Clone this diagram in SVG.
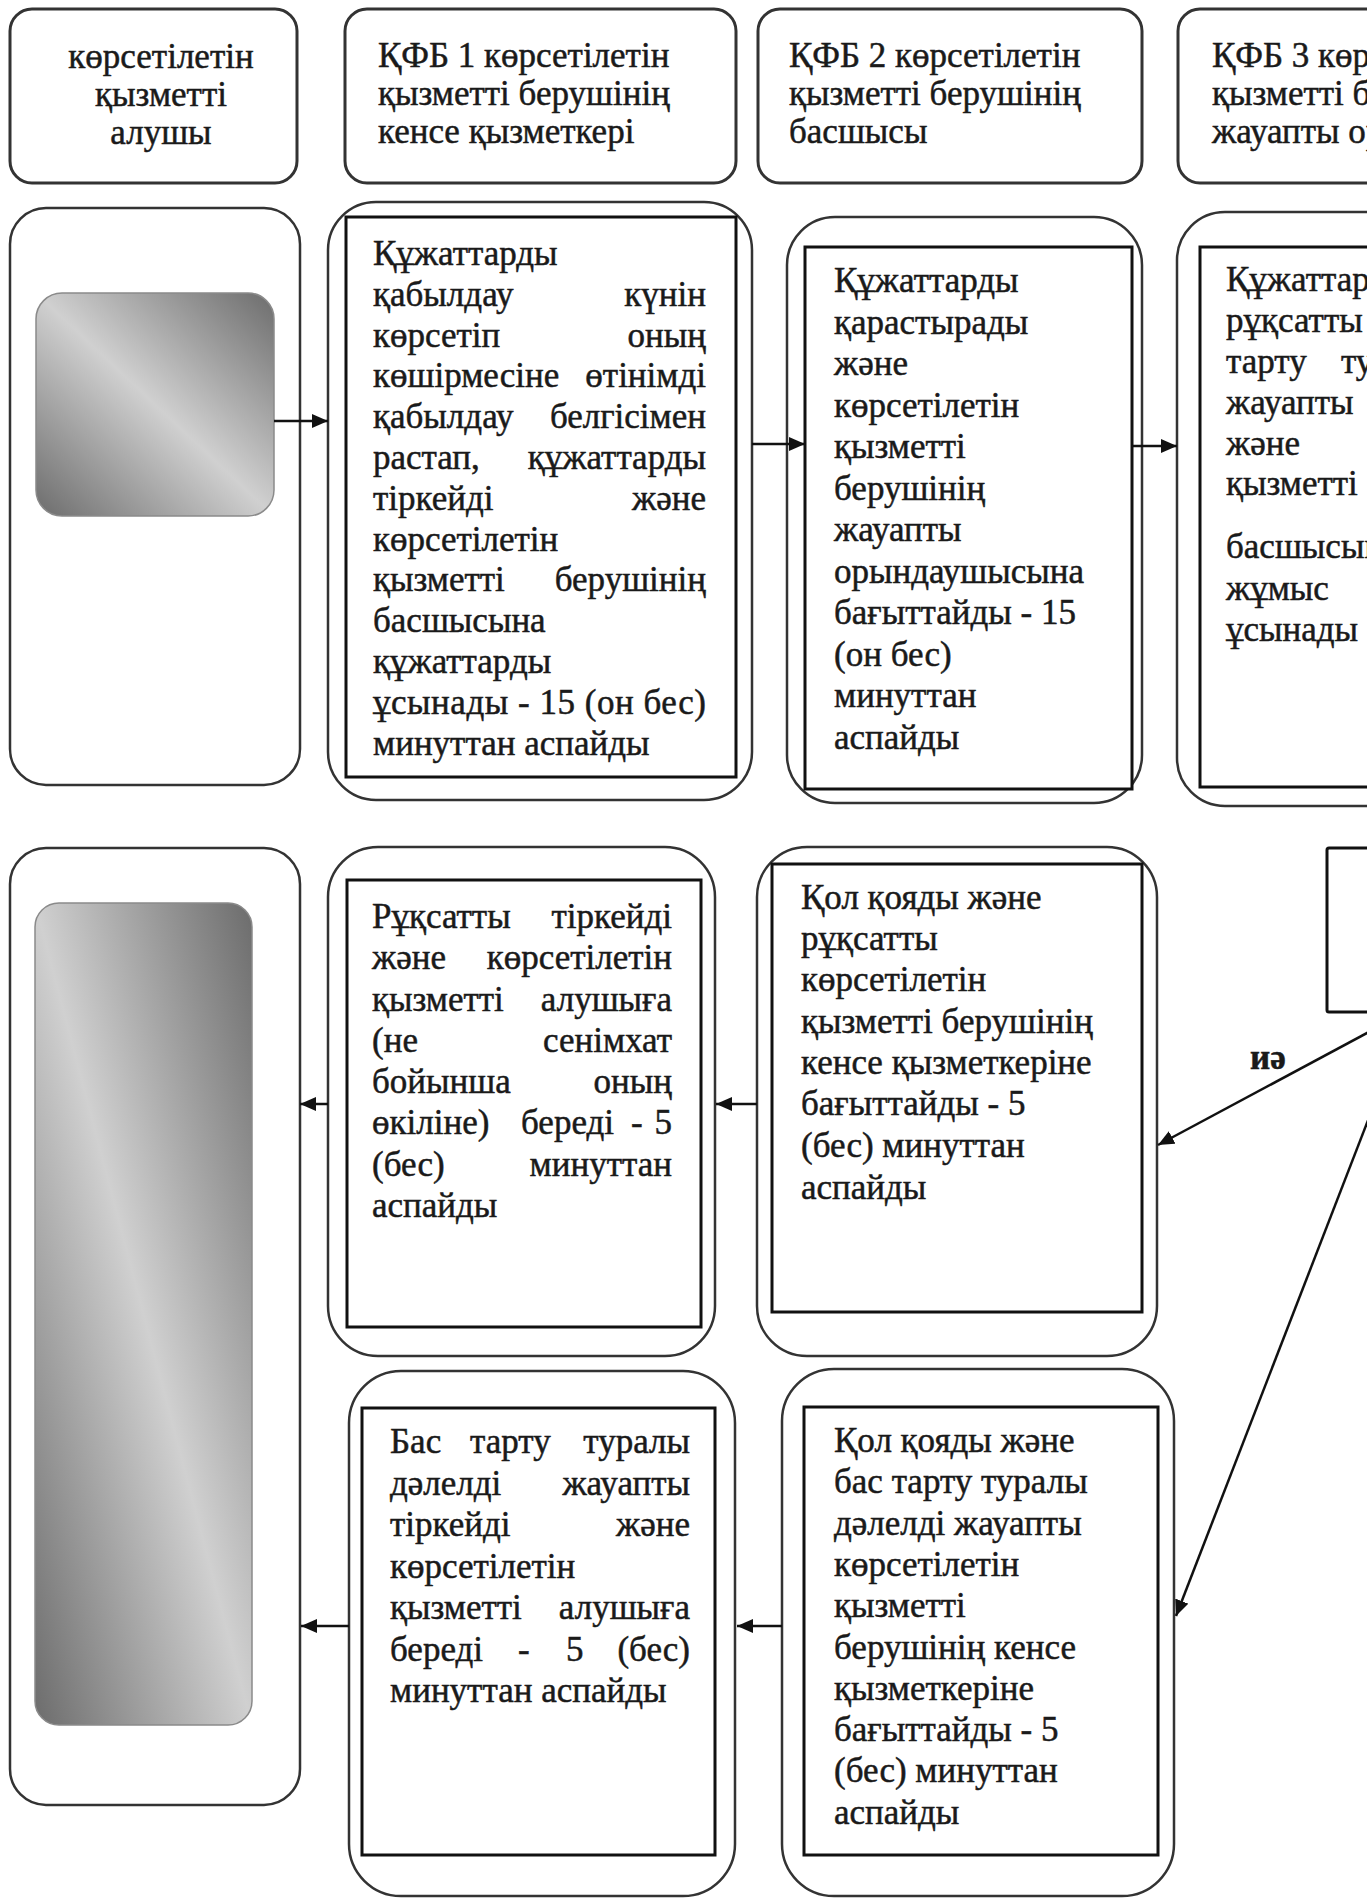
<svg xmlns="http://www.w3.org/2000/svg" width="1367" height="1899" viewBox="0 0 1367 1899">
<defs>
<style>
.hdr{fill:#fff;stroke:#333;stroke-width:3}
.outer{fill:#fff;stroke:#333;stroke-width:2.5}
.inner{fill:#fff;stroke:#111;stroke-width:3}
.grad{fill:url(#gdiag);stroke:#8a8a8a;stroke-width:1.5}
.t{font-family:"Liberation Serif","DejaVu Serif",serif;font-size:35px;fill:#1a1a1a;stroke:#1a1a1a;stroke-width:0.5}
.e{text-anchor:end}
.m{text-anchor:middle}
.conn{stroke:#111;stroke-width:2.5;fill:none}
</style>
<linearGradient id="gdiag" x1="1" y1="0" x2="0" y2="1">
<stop offset="0" stop-color="#6c6c6c"/>
<stop offset="0.5" stop-color="#d0d0d0"/>
<stop offset="1" stop-color="#6c6c6c"/>
</linearGradient>
<marker id="arr" viewBox="0 0 16 14" refX="16" refY="7" markerWidth="16" markerHeight="14" markerUnits="userSpaceOnUse" orient="auto">
<path d="M0,0 L16,7 L0,14 z" fill="#111"/>
</marker>
</defs>
<rect width="1367" height="1899" fill="#fff"/>

<g id="hdr1">
<rect class="hdr" x="10" y="9" width="287" height="174" rx="22"/>
<text class="t m" x="161" y="68">көрсетілетін</text>
<text class="t m" x="161" y="106">қызметті</text>
<text class="t m" x="161" y="144">алушы</text>
</g>
<g id="hdr2">
<rect class="hdr" x="345" y="9" width="391" height="174" rx="22"/>
<text class="t" x="378" y="67">ҚФБ 1 көрсетілетін</text>
<text class="t" x="378" y="105">қызметті берушінің</text>
<text class="t" x="378" y="143">кенсе қызметкері</text>
</g>
<g id="hdr3">
<rect class="hdr" x="758" y="9" width="384" height="174" rx="22"/>
<text class="t" x="789" y="67">ҚФБ 2 көрсетілетін</text>
<text class="t" x="789" y="105">қызметті берушінің</text>
<text class="t" x="789" y="143">басшысы</text>
</g>
<g id="hdr4">
<rect class="hdr" x="1178" y="9" width="260" height="174" rx="22"/>
<text class="t" x="1212" y="67">ҚФБ 3 көрсетілетін</text>
<text class="t" x="1212" y="105">қызметті берушінің</text>
<text class="t" x="1212" y="143">жауапты орындаушысы</text>
</g>

<g id="nodeA">
<rect class="outer" x="10" y="208" width="290" height="577" rx="36"/>
<rect class="grad" x="36" y="293" width="238" height="223" rx="26"/>
</g>

<g id="nodeB">
<rect class="outer" x="328" y="202" width="424" height="598" rx="48"/>
<rect class="inner" x="346" y="217" width="390" height="560"/>
<text class="t" x="373" y="265">Құжаттарды</text>
<text class="t" x="373" y="306">қабылдау</text><text class="t e" x="706" y="306">күнін</text>
<text class="t" x="373" y="347">көрсетіп</text><text class="t e" x="706" y="347">оның</text>
<text class="t" x="373" y="387">көшірмесіне</text><text class="t e" x="706" y="387">өтінімді</text>
<text class="t" x="373" y="428">қабылдау</text><text class="t e" x="706" y="428">белгісімен</text>
<text class="t" x="373" y="469">растап,</text><text class="t e" x="706" y="469">құжаттарды</text>
<text class="t" x="373" y="510">тіркейді</text><text class="t e" x="706" y="510">және</text>
<text class="t" x="373" y="551">көрсетілетін</text>
<text class="t" x="373" y="591">қызметті</text><text class="t e" x="706" y="591">берушінің</text>
<text class="t" x="373" y="632">басшысына</text>
<text class="t" x="373" y="673">құжаттарды</text>
<text class="t" x="373" y="714" textLength="333" lengthAdjust="spacing">ұсынады - 15 (он бес)</text>
<text class="t" x="373" y="755">минуттан аспайды</text>
</g>

<g id="nodeC">
<rect class="outer" x="787" y="217" width="355" height="586" rx="48"/>
<rect class="inner" x="805" y="247" width="327" height="542"/>
<text class="t" x="834" y="292">Құжаттарды</text>
<text class="t" x="834" y="334">қарастырады</text>
<text class="t" x="834" y="375">және</text>
<text class="t" x="834" y="417">көрсетілетін</text>
<text class="t" x="834" y="458">қызметті</text>
<text class="t" x="834" y="500">берушінің</text>
<text class="t" x="834" y="541">жауапты</text>
<text class="t" x="834" y="583">орындаушысына</text>
<text class="t" x="834" y="624">бағыттайды - 15</text>
<text class="t" x="834" y="666">(он бес)</text>
<text class="t" x="834" y="707">минуттан</text>
<text class="t" x="834" y="749">аспайды</text>
</g>

<g id="nodeD">
<rect class="outer" x="1177" y="212" width="260" height="594" rx="48"/>
<rect class="inner" x="1200" y="247" width="220" height="540"/>
<text class="t" x="1226" y="291">Құжаттарды</text>
<text class="t" x="1226" y="332">рұқсатты</text>
<text class="t" x="1226" y="373">тарту</text><text class="t" x="1341" y="373">туралы</text>
<text class="t" x="1226" y="414">жауапты</text>
<text class="t" x="1226" y="455">және</text>
<text class="t" x="1226" y="495">қызметті</text>
<text class="t" x="1226" y="558">басшысына</text>
<text class="t" x="1226" y="600">жұмыс</text>
<text class="t" x="1226" y="641">ұсынады</text>
</g>

<g id="nodeE">
<rect class="outer" x="10" y="848" width="290" height="957" rx="36"/>
<rect class="grad" x="35" y="903" width="217" height="822" rx="24"/>
</g>

<g id="nodeF">
<rect class="outer" x="328" y="847" width="387" height="509" rx="50"/>
<rect class="inner" x="347" y="880" width="354" height="447"/>
<text class="t" x="372" y="928">Рұқсатты</text><text class="t e" x="672" y="928">тіркейді</text>
<text class="t" x="372" y="969">және</text><text class="t e" x="672" y="969">көрсетілетін</text>
<text class="t" x="372" y="1011">қызметті</text><text class="t e" x="672" y="1011">алушыға</text>
<text class="t" x="372" y="1052">(не</text><text class="t e" x="672" y="1052">сенімхат</text>
<text class="t" x="372" y="1093">бойынша</text><text class="t e" x="672" y="1093">оның</text>
<text class="t" x="372" y="1134">өкіліне)</text><text class="t" x="521" y="1134">береді</text><text class="t" x="631" y="1134">-</text><text class="t e" x="672" y="1134">5</text>
<text class="t" x="372" y="1176">(бес)</text><text class="t e" x="672" y="1176">минуттан</text>
<text class="t" x="372" y="1217">аспайды</text>
</g>

<g id="nodeG">
<rect class="outer" x="757" y="847" width="400" height="509" rx="50"/>
<rect class="inner" x="772" y="864" width="370" height="448"/>
<text class="t" x="801" y="909">Қол қояды және</text>
<text class="t" x="801" y="950">рұқсатты</text>
<text class="t" x="801" y="991">көрсетілетін</text>
<text class="t" x="801" y="1033">қызметті берушінің</text>
<text class="t" x="801" y="1074">кенсе қызметкеріне</text>
<text class="t" x="801" y="1115">бағыттайды - 5</text>
<text class="t" x="801" y="1157">(бес) минуттан</text>
<text class="t" x="801" y="1199">аспайды</text>
</g>

<g id="decision">
<rect x="1327" y="848" width="100" height="164" fill="#fff" stroke="#111" stroke-width="3" rx="2"/>
</g>

<g id="nodeH">
<rect class="outer" x="782" y="1369" width="392" height="527" rx="52"/>
<rect class="inner" x="804" y="1407" width="354" height="448"/>
<text class="t" x="834" y="1452">Қол қояды және</text>
<text class="t" x="834" y="1493">бас тарту туралы</text>
<text class="t" x="834" y="1535">дәлелді жауапты</text>
<text class="t" x="834" y="1576">көрсетілетін</text>
<text class="t" x="834" y="1617">қызметті</text>
<text class="t" x="834" y="1659">берушінің кенсе</text>
<text class="t" x="834" y="1700">қызметкеріне</text>
<text class="t" x="834" y="1741">бағыттайды - 5</text>
<text class="t" x="834" y="1782">(бес) минуттан</text>
<text class="t" x="834" y="1824">аспайды</text>
</g>

<g id="nodeI">
<rect class="outer" x="349" y="1371" width="386" height="525" rx="52"/>
<rect class="inner" x="362" y="1408" width="353" height="447"/>
<text class="t" x="390" y="1453">Бас</text><text class="t" x="470" y="1453">тарту</text><text class="t e" x="690" y="1453">туралы</text>
<text class="t" x="390" y="1495">дәлелді</text><text class="t e" x="690" y="1495">жауапты</text>
<text class="t" x="390" y="1536">тіркейді</text><text class="t e" x="690" y="1536">және</text>
<text class="t" x="390" y="1578">көрсетілетін</text>
<text class="t" x="390" y="1619">қызметті</text><text class="t e" x="690" y="1619">алушыға</text>
<text class="t" x="390" y="1661">береді</text><text class="t" x="518" y="1661">-</text><text class="t" x="566" y="1661">5</text><text class="t e" x="690" y="1661">(бес)</text>
<text class="t" x="390" y="1702">минуттан аспайды</text>
</g>

<g id="connectors">
<line class="conn" x1="274" y1="421" x2="328" y2="421" marker-end="url(#arr)"/>
<line class="conn" x1="752" y1="444" x2="805" y2="444" marker-end="url(#arr)"/>
<line class="conn" x1="1132" y1="446" x2="1177" y2="446" marker-end="url(#arr)"/>
<line class="conn" x1="757" y1="1104" x2="716" y2="1104" marker-end="url(#arr)"/>
<line class="conn" x1="328" y1="1104" x2="300" y2="1104" marker-end="url(#arr)"/>
<line class="conn" x1="782" y1="1626" x2="737" y2="1626" marker-end="url(#arr)"/>
<line class="conn" x1="349" y1="1626" x2="301" y2="1626" marker-end="url(#arr)"/>
<line class="conn" x1="1380" y1="1026" x2="1158" y2="1145" marker-end="url(#arr)"/>
<line class="conn" x1="1372" y1="1110" x2="1176" y2="1616" marker-end="url(#arr)"/>
<text class="t" x="1250" y="1069" font-weight="bold">иә</text>
</g>
</svg>
